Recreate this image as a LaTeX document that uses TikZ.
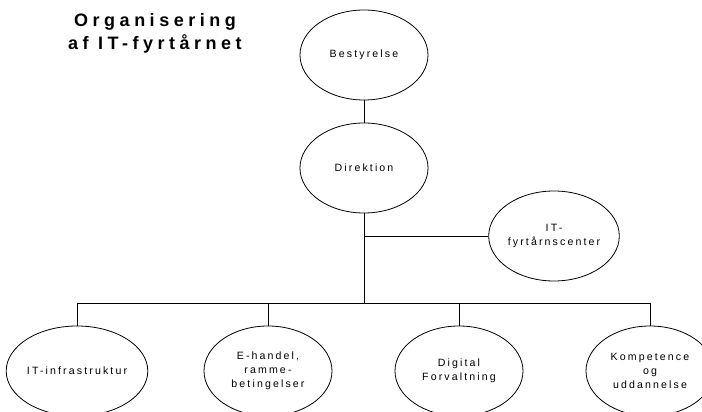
\documentclass[tikz,border=0pt]{standalone}
\usepackage{fontspec}
\usepackage{tikz}
\usetikzlibrary{shapes,arrows}
\newfontfamily\orgfont[LetterSpace=20]{Liberation Sans}
\newfontfamily\titlefont[LetterSpace=25]{Liberation Sans}
\tikzset{
  unit/.style     = {draw, ellipse, line width=0.8pt, minimum width=128pt, minimum height=90pt, inner sep=0pt, align=center, font=\orgfont\fontsize{10.6}{14}\selectfont},
  heading/.style  = {align=center, inner sep=0pt, font=\titlefont\bfseries\fontsize{18}{23}\selectfont},
  link/.style     = {line width=0.8pt}
}
\begin{document}
\begin{tikzpicture}[node distance=113pt]
\useasboundingbox (0,0) rectangle (702pt,412pt);

% Top
\draw node [unit, name=bestyrelse] at (364pt,357pt) {Bestyrelse};
\draw node [unit, below of=bestyrelse] (direktion) {Direktion};
\draw node [heading, left of=bestyrelse, node distance=209pt, yshift=22pt] (title) {Organisering\\af IT-fyrtårnet};

% Staff unit
\draw node [unit, right of=direktion, node distance=190pt, yshift=-68pt] (center) {IT-\\fyrtårnscenter};

% Bottom row
\draw node [unit, below of=direktion, node distance=203pt, xshift=-96pt] (handel) {E-handel,\\ramme-\\betingelser};
\draw node [unit, below of=direktion, node distance=203pt, xshift=95pt] (digital) {Digital\\Forvaltning};
\draw node [unit, left of=handel, node distance=191pt] (infra) {IT-infrastruktur};
\draw node [unit, right of=digital, node distance=191pt] (kompetence) {Kompetence\\og\\uddannelse};

% Connections
\coordinate (bus) at (direktion.south |- 0,109pt);
\coordinate (branch) at (direktion.south |- center.west);
\draw[link] (bestyrelse) -- (direktion);
\draw[link] (direktion) -- (bus);
\draw[link] (branch) -- (center);
\draw[link] (infra.north) -- (infra.north |- bus) -- (kompetence.north |- bus) -- (kompetence.north);
\draw[link] (handel.north) -- (handel.north |- bus);
\draw[link] (digital.north) -- (digital.north |- bus);

\end{tikzpicture}
\end{document}
